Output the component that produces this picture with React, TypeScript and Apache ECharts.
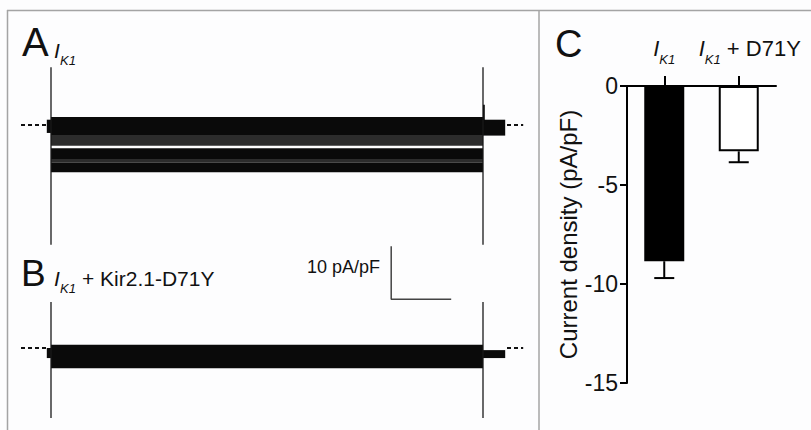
import React, { useEffect, useRef } from "react";
import * as echarts from "echarts";

const FONT = '"Liberation Sans", Arial, Helvetica, sans-serif';

// ---------- Panels A & B: current traces (time in ms, current in pA/pF)
const timeAxisMs = [0, 840];
const stepOnMs = 50;
const stepOffMs = 770;
const tailEndMs = 807;
const baselineLeftMs = [0, 43];
const baselineRightMs = [810, 837];

// noise envelopes of the superimposed sweeps: [tStart, tEnd, upper, lower]
const tracesA_solid = [
  [stepOnMs, stepOffMs, 1.5, -1.9],
  [stepOnMs, stepOffMs, -4.4, -6.4],
  [stepOnMs, stepOffMs, -7.1, -8.9],
  [43, stepOnMs, 1.0, -1.5],
  [stepOffMs, tailEndMs, 1.0, -2.0],
  [stepOffMs, 773, 3.8, 0],
];
const tracesA_mottled = [
  [stepOnMs, stepOffMs, -1.9, -3.9],
  [stepOnMs, stepOffMs, -6.4, -7.1],
];
const transientA = [10.9, -22.6];

const tracesB_solid = [
  [stepOnMs, stepOffMs, 0.6, -3.8],
  [43, stepOnMs, 0, -1.9],
  [stepOffMs, tailEndMs, -0.4, -1.9],
];
const transientB = [8.7, -13.2];

const yRangeA = [-24, 12];
const yRangeB = [-15, 20];

const scaleBarAt = [617, 9.2];
const scaleBarCurrent = 10; // pA/pF
const scaleBarTime = 100; // ms

// ---------- Panel C: current density
const categoriesC = ["IK1", "IK1 + D71Y"];
const meanC = [-8.85, -3.3];
const semC = [0.85, 0.55];
const yMinC = -15;
const yMaxC = 0;
const yStepC = 5;

const bandSeries = (data: number[][], color: string, axis: number) => ({
  type: "custom",
  xAxisIndex: axis,
  yAxisIndex: axis,
  data,
  silent: true,
  clip: false,
  encode: { x: [0, 1], y: [2, 3] },
  renderItem: (_p: any, api: any) => {
    const a = api.coord([api.value(0), api.value(2)]);
    const b = api.coord([api.value(1), api.value(3)]);
    return {
      type: "rect",
      shape: { x: a[0], y: a[1], width: b[0] - a[0], height: b[1] - a[1] },
      style: { fill: color },
    };
  },
});

const lineSeries = (data: number[][], axis: number, style: any) => ({
  type: "line",
  xAxisIndex: axis,
  yAxisIndex: axis,
  data,
  symbol: "none",
  silent: true,
  lineStyle: style,
});

const txt = (text: string, x: number, y: number, size: number, extra: any = {}) => ({
  type: "text",
  x,
  y,
  silent: true,
  style: {
    text,
    fontSize: size,
    fontFamily: FONT,
    fill: "#111",
    align: "left",
    verticalAlign: "middle",
    textAlign: "left",
    textVerticalAlign: "middle",
    ...extra,
  },
});

export default function App() {
  const ref = useRef<HTMLDivElement>(null);

  useEffect(() => {
    if (!ref.current) return;
    const chart = echarts.init(ref.current, null, { renderer: "svg" });

    const transientStyle = { color: "#1a1a1a", width: 1.3 };
    const dashStyle = { color: "#111", width: 2, type: [4, 3] };
    const capStyle = { fontSize: 22, fontStyle: "italic", fontFamily: FONT, color: "#111", verticalAlign: "top" };

    const option: any = {
      animation: false,
      backgroundColor: "#fdfdfe",
      grid: [
        { left: 21, top: 61.4, width: 504, height: 190.8 },
        { left: 21, top: 242, width: 504, height: 185.5 },
        { left: 627, top: 86, width: 149, height: 297 },
      ],
      xAxis: [
        { gridIndex: 0, type: "value", min: timeAxisMs[0], max: timeAxisMs[1], show: false },
        { gridIndex: 1, type: "value", min: timeAxisMs[0], max: timeAxisMs[1], show: false },
        {
          gridIndex: 2,
          type: "category",
          data: categoriesC,
          position: "top",
          axisLine: { onZero: false, lineStyle: { color: "#000", width: 2 } },
          axisTick: { show: true, alignWithLabel: true, length: 10, lineStyle: { color: "#000", width: 2 } },
          axisLabel: {
            margin: 20,
            interval: 0,
            formatter: (v: string) =>
              v === "IK1" ? "{i|I}{s|K1}" : "{j|I}{s|K1}{t| + D71Y}",
            rich: {
              i: capStyle,
              j: { ...capStyle, padding: [0, 0, 0, 22] },
              s: { fontSize: 13, fontStyle: "italic", fontFamily: FONT, color: "#111", verticalAlign: "top", padding: [16, 0, 0, 0] },
              t: { fontSize: 22, fontFamily: FONT, color: "#111", verticalAlign: "top" },
            },
          },
        },
      ],
      yAxis: [
        { gridIndex: 0, type: "value", min: yRangeA[0], max: yRangeA[1], show: false },
        { gridIndex: 1, type: "value", min: yRangeB[0], max: yRangeB[1], show: false },
        {
          gridIndex: 2,
          type: "value",
          min: yMinC,
          max: yMaxC,
          interval: yStepC,
          splitLine: { show: false },
          axisLine: { show: true, lineStyle: { color: "#000", width: 2 } },
          axisTick: { show: true, length: 7, lineStyle: { color: "#000", width: 2 } },
          axisLabel: { fontSize: 23, fontFamily: FONT, color: "#111", margin: 9 },
          name: "Current density (pA/pF)",
          nameLocation: "middle",
          nameGap: 46,
          nameTextStyle: { fontSize: 24, fontFamily: FONT, color: "#111" },
        },
      ],
      series: [
        // Panel A
        bandSeries(tracesA_mottled, "#2c2c2c", 0),
        bandSeries(tracesA_solid, "#0a0a0a", 0),
        lineSeries([[stepOnMs, transientA[0]], [stepOnMs, transientA[1]]], 0, transientStyle),
        lineSeries([[stepOffMs, transientA[0]], [stepOffMs, transientA[1]]], 0, transientStyle),
        lineSeries([[baselineLeftMs[0], 0], [baselineLeftMs[1], 0]], 0, dashStyle),
        lineSeries([[baselineRightMs[0], 0], [baselineRightMs[1], 0]], 0, dashStyle),
        // Panel B
        bandSeries(tracesB_solid, "#0a0a0a", 1),
        lineSeries([[stepOnMs, transientB[0]], [stepOnMs, transientB[1]]], 1, transientStyle),
        lineSeries([[stepOffMs, transientB[0]], [stepOffMs, transientB[1]]], 1, transientStyle),
        lineSeries([[baselineLeftMs[0], 0], [baselineLeftMs[1], 0]], 1, dashStyle),
        lineSeries([[baselineRightMs[0], 0], [baselineRightMs[1], 0]], 1, dashStyle),
        lineSeries(
          [
            [scaleBarAt[0], scaleBarAt[1] + scaleBarCurrent],
            [scaleBarAt[0], scaleBarAt[1]],
            [scaleBarAt[0] + scaleBarTime, scaleBarAt[1]],
          ],
          1,
          { color: "#444", width: 1.5 }
        ),
        // Panel C
        {
          type: "bar",
          xAxisIndex: 2,
          yAxisIndex: 2,
          barWidth: 40,
          silent: true,
          data: meanC.map((v, i) => ({
            value: v,
            itemStyle:
              i === 0
                ? { color: "#000" }
                : { color: "#fff", borderColor: "#000", borderWidth: 2 },
          })),
        },
        {
          type: "custom",
          xAxisIndex: 2,
          yAxisIndex: 2,
          silent: true,
          data: meanC.map((m, i) => [i, m, m - semC[i]]),
          encode: { x: 0, y: [1, 2] },
          renderItem: (_p: any, api: any) => {
            const top = api.coord([api.value(0), api.value(1)]);
            const bot = api.coord([api.value(0), api.value(2)]);
            const cap = 10;
            return {
              type: "group",
              children: [
                { type: "line", shape: { x1: top[0], y1: top[1], x2: bot[0], y2: bot[1] }, style: { stroke: "#000", lineWidth: 2 } },
                { type: "line", shape: { x1: bot[0] - cap, y1: bot[1], x2: bot[0] + cap, y2: bot[1] }, style: { stroke: "#000", lineWidth: 2 } },
              ],
            };
          },
        },
      ],
      graphic: [
        { type: "line", silent: true, shape: { x1: 7, y1: 10.5, x2: 811, y2: 10.5 }, style: { stroke: "#a4a4a4", lineWidth: 1.5 } },
        { type: "line", silent: true, shape: { x1: 7.5, y1: 10, x2: 7.5, y2: 430 }, style: { stroke: "#a4a4a4", lineWidth: 1.5 } },
        { type: "line", silent: true, shape: { x1: 539, y1: 10, x2: 539, y2: 430 }, style: { stroke: "#a4a4a4", lineWidth: 1.5 } },
        txt("A", 22, 42, 40),
        txt("I", 54, 50, 21, { fontStyle: "italic" }),
        txt("K1", 60, 60, 13, { fontStyle: "italic" }),
        txt("B", 21, 273, 37),
        txt("I", 54, 278, 21, { fontStyle: "italic" }),
        txt("K1", 60, 288, 13, { fontStyle: "italic" }),
        txt("+ Kir2.1-D71Y", 82, 278, 21),
        txt("10 pA/pF", 380, 267, 18, { align: "right", textAlign: "right" }),
        txt("C", 555, 44, 38),
      ],
    };

    chart.setOption(option);
    return () => chart.dispose();
  }, []);

  return (
    <div
      ref={ref}
      style={{ position: "fixed", left: 0, top: 0, width: 811, height: 430 }}
    />
  );
}
